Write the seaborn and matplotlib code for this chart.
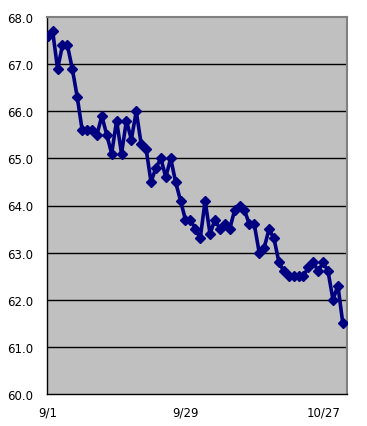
import matplotlib
matplotlib.use("Agg")
import matplotlib.pyplot as plt
import seaborn as sns
import pandas as pd
import numpy as np

values = [67.6, 67.7, 66.9, 67.4, 67.4, 66.9, 66.3, 65.6, 65.6, 65.6,
          65.5, 65.9, 65.5, 65.1, 65.8, 65.1, 65.8, 65.4, 66.0, 65.3,
          65.2, 64.5, 64.8, 65.0, 64.6, 65.0, 64.5, 64.1, 63.7, 63.7,
          63.5, 63.3, 64.1, 63.4, 63.7, 63.5, 63.6, 63.5, 63.9, 64.0,
          63.9, 63.6, 63.6, 63.0, 63.1, 63.5, 63.3, 62.8, 62.6, 62.5,
          62.5, 62.5, 62.5, 62.7, 62.8, 62.6, 62.8, 62.6, 62.0, 62.3,
          61.5]
dates = pd.date_range("2000-09-01", periods=len(values), freq="D")
day_index = list(range(len(values)))
tick_positions = [0, 28, 56]
tick_labels = ["9/1", "9/29", "10/27"]
y_ticks = [60.0, 61.0, 62.0, 63.0, 64.0, 65.0, 66.0, 67.0, 68.0]

df = pd.DataFrame({"day": day_index, "value": values, "date": dates})

sns.set_style("white")
plt.rcParams["font.family"] = ["DejaVu Sans"]

fig = plt.figure(figsize=(3.67, 4.27), dpi=100)
ax = fig.add_axes([47 / 367, 1 - 395 / 427, 300 / 367, 377 / 427])
ax.set_facecolor("#C0C0C0")

for yv in y_ticks[1:-1]:
    ax.axhline(yv, color="black", linewidth=1.0, zorder=1)

sns.lineplot(data=df, x="day", y="value", ax=ax, color="#000080",
             linewidth=2.6, marker="D", markersize=5.2,
             markeredgecolor="#000080", markerfacecolor="#000080",
             markeredgewidth=1.0, zorder=3)

ax.set_xlim(-0.15, 60.85)
ax.set_ylim(60.0, 68.0)
ax.set_xticks(tick_positions)
ax.set_xticklabels(tick_labels)
ax.set_yticks(y_ticks)
ax.set_yticklabels([f"{v:.1f}" for v in y_ticks])
ax.set_xlabel("")
ax.set_ylabel("")
ax.tick_params(axis="both", direction="in", length=2.5, width=0.8,
               colors="black", labelsize=8.5)
ax.tick_params(axis="y", pad=10)
ax.tick_params(axis="x", pad=8)

for side in ["left", "bottom"]:
    ax.spines[side].set_visible(True)
    ax.spines[side].set_color("black")
    ax.spines[side].set_linewidth(1.0)
for side in ["top", "right"]:
    ax.spines[side].set_visible(True)
    ax.spines[side].set_color("#808080")
    ax.spines[side].set_linewidth(1.5)

fig.savefig("out.png", dpi=100, facecolor="white")
